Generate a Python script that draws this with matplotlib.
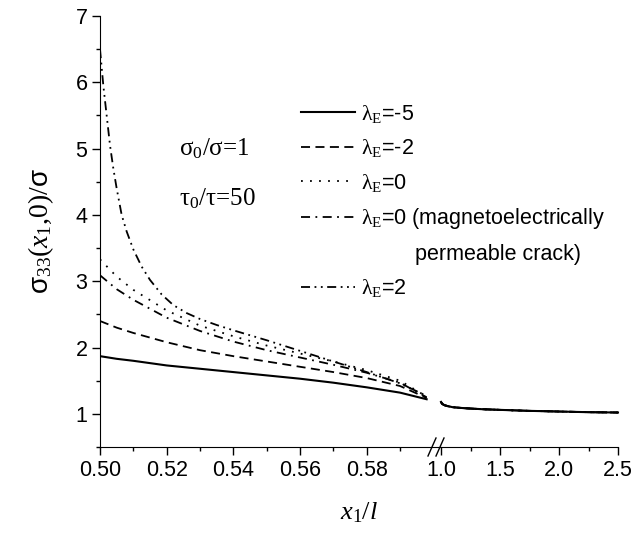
import numpy as np
import matplotlib
matplotlib.use('Agg')
import matplotlib.pyplot as plt
from matplotlib.lines import Line2D

plt.rcParams['font.family'] = ['Liberation Sans', 'DejaVu Sans']
plt.rcParams['mathtext.fontset'] = 'custom'
plt.rcParams['mathtext.rm'] = 'Liberation Serif'
plt.rcParams['mathtext.it'] = 'Liberation Serif:italic'
plt.rcParams['mathtext.sf'] = 'Liberation Sans'

# left part of the broken axis, 0.50 .. 0.60
x_left = [0.500, 0.505, 0.510, 0.520, 0.530, 0.540, 0.550, 0.560, 0.570, 0.580, 0.590, 0.598]
y_m5 = [1.87, 1.83, 1.80, 1.73, 1.68, 1.63, 1.58, 1.53, 1.47, 1.40, 1.32, 1.22]
y_m2 = [2.40, 2.30, 2.22, 2.08, 1.96, 1.87, 1.79, 1.71, 1.63, 1.54, 1.42, 1.24]
y_0 = [3.33, 3.07, 2.87, 2.56, 2.33, 2.17, 2.03, 1.91, 1.79, 1.66, 1.50, 1.26]
y_0p = [3.09, 2.88, 2.72, 2.45, 2.25, 2.09, 1.96, 1.85, 1.74, 1.62, 1.47, 1.25]
x_left2 = [0.500, 0.501, 0.502, 0.503, 0.504, 0.505, 0.5065, 0.508, 0.510, 0.5125, 0.515,
           0.5185, 0.522, 0.526, 0.530, 0.535, 0.540, 0.550, 0.560, 0.570, 0.580, 0.590, 0.598]
y_2 = [6.50, 5.95, 5.50, 5.05, 4.70, 4.40, 4.00, 3.75, 3.48, 3.22, 3.02, 2.80, 2.64, 2.52,
       2.43, 2.34, 2.26, 2.11, 1.95, 1.79, 1.63, 1.46, 1.27]

# right part, 1.0 .. 2.5 (all curves coincide)
x_right = [1.0, 1.01, 1.03, 1.06, 1.1, 1.2, 1.35, 1.5, 1.75, 2.0, 2.25, 2.5]
y_right = [1.18, 1.15, 1.13, 1.115, 1.10, 1.085, 1.07, 1.06, 1.045, 1.035, 1.025, 1.02]

labels = [r'$\mathrm{\lambda_E}$=-5', r'$\mathrm{\lambda_E}$=-2', r'$\mathrm{\lambda_E}$=0',
          r'$\mathrm{\lambda_E}$=0 (magnetoelectrically', r'$\mathrm{\lambda_E}$=2']
styles = ['-', (0, (5, 3)), (0, (1, 4)), (0, (5, 3, 1, 3)), (0, (5, 2.5, 1, 2.5, 1, 2.5))]
widths = [1.5, 1.3, 1.3, 1.3, 1.3]

fig = plt.figure(figsize=(6.37, 5.37), dpi=100)
W, H = 637.0, 537.0
ax1 = fig.add_axes([100 / W, 1 - 447 / H, 341 / W, 431 / H])
ax2 = fig.add_axes([441 / W, 1 - 447 / H, 177 / W, 431 / H])

left_data = [(x_left, y_m5), (x_left, y_m2), (x_left, y_0), (x_left, y_0p), (x_left2, y_2)]
for (xs, ys), ls, lw, lab in zip(left_data, styles, widths, labels):
    ax1.plot(xs, ys, color='black', linestyle=ls, lw=lw, label=lab)
    ax2.plot(x_right, y_right, color='black', linestyle=ls, lw=lw, clip_on=False)

for ax in (ax1, ax2):
    ax.set_ylim(0.5, 7)
    ax.spines['top'].set_visible(False)
    ax.spines['right'].set_visible(False)
    ax.tick_params(which='major', direction='out', length=5.5, width=1, labelsize=15.5)
    ax.tick_params(which='minor', direction='out', length=3, width=1)

ax1.set_xlim(0.50, 0.6023)
ax1.set_xticks([0.50, 0.52, 0.54, 0.56, 0.58])
ax1.set_xticklabels(['0.50', '0.52', '0.54', '0.56', '0.58'])
ax1.set_xticks([0.51, 0.53, 0.55, 0.57, 0.59], minor=True)
ax1.set_yticks([1, 2, 3, 4, 5, 6, 7])
ax1.set_yticks([0.5, 1.5, 2.5, 3.5, 4.5, 5.5, 6.5], minor=True)

ax2.set_xlim(1.0, 2.5)
ax2.set_xticks([1.0, 1.5, 2.0, 2.5])
ax2.set_xticklabels(['1.0', '1.5', '2.0', '2.5'])
ax2.set_xticks([1.25, 1.75, 2.25], minor=True)
ax2.spines['left'].set_visible(False)
ax2.tick_params(axis='y', which='both', left=False, labelleft=False)
ax2.patch.set_visible(False)

# break marks on the x axis
for dx in (-13, -5):
    fig.add_artist(Line2D([(441 + dx) / W, (441 + dx + 8) / W],
                          [1 - 456 / H, 1 - 438 / H], color='black', lw=1))

ax1.set_ylabel(r'$\mathsf{\sigma}_{\mathrm{33}}(x_{\mathrm{1}}{,}0)/\mathsf{\sigma}$',
               fontsize=20, labelpad=14)
fig.text(359 / W, 1 - 513 / H, r'$x_{\mathrm{1}}/l$', fontsize=19, ha='center', va='center')

fig.text(179 / W, 1 - 149 / H, r'$\mathrm{\sigma_0/\sigma}$=1', fontsize=18, va='center',
         family='Liberation Serif')
fig.text(179 / W, 1 - 199 / H, r'$\mathrm{\tau_0/\tau}$=50', fontsize=18, va='center',
         family='Liberation Serif')

handles, labs = ax1.get_legend_handles_labels()
blank = Line2D([], [], linestyle='none')
handles = handles[:4] + [blank] + handles[4:]
labs = labs[:4] + ['         permeable crack)'] + labs[4:]
fig.legend(handles, labs, loc='upper left', bbox_to_anchor=(301 / W, 1 - 103 / H),
           frameon=False, fontsize=15.5, handlelength=2.5, handletextpad=0.3,
           labelspacing=0.58, borderpad=0, borderaxespad=0)

fig.savefig('out.png', dpi=100)
